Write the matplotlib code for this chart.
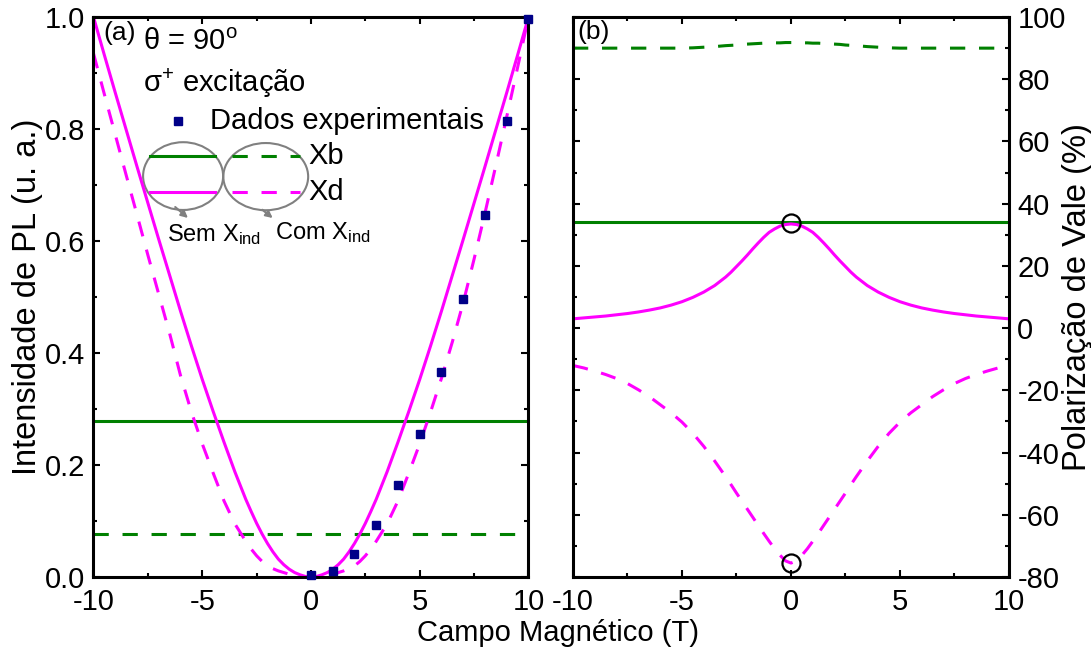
import matplotlib
matplotlib.use('Agg')
import matplotlib.pyplot as plt
from matplotlib.patches import Ellipse
from matplotlib.lines import Line2D
from matplotlib.ticker import MultipleLocator, FormatStrFormatter

plt.rcParams['font.family'] = ['Liberation Sans', 'DejaVu Sans']
plt.rcParams['mathtext.fontset'] = 'custom'
plt.rcParams['mathtext.rm'] = 'Liberation Sans'
plt.rcParams['mathtext.it'] = 'Liberation Sans:italic'
plt.rcParams['axes.unicode_minus'] = False
plt.rcParams['font.size'] = 21

# experimental PL intensity (normalised)
campo_exp = [0, 1, 2, 3, 4, 5, 6, 7, 8, 9, 10]
pl_exp = [0.003, 0.011, 0.041, 0.093, 0.164, 0.256, 0.367, 0.496, 0.646, 0.814, 0.997]

# model field grid (T)
campo = [-10, -9.5, -9, -8.5, -8, -7.5, -7, -6.5, -6, -5.5, -5, -4.5, -4, -3.5,
         -3, -2.75, -2.5, -2.25, -2, -1.75, -1.5, -1.25, -1, -0.75, -0.5, -0.25,
         0,
         0.25, 0.5, 0.75, 1, 1.25, 1.5, 1.75, 2, 2.25, 2.5, 2.75, 3,
         3.5, 4, 4.5, 5, 5.5, 6, 6.5, 7, 7.5, 8, 8.5, 9, 9.5, 10]

# (a) PL intensity, sem / com X_ind
pl_xb_sem = [0.279] * 53
pl_xb_com = [0.077] * 53
pl_xd_sem = [1.0, 0.932, 0.865, 0.799, 0.733, 0.668, 0.603, 0.539, 0.475, 0.413, 0.353, 0.296, 0.241, 0.188,
             0.139, 0.117, 0.096, 0.077, 0.060, 0.045, 0.032, 0.022, 0.014, 0.008, 0.004, 0.001,
             0.0,
             0.001, 0.004, 0.008, 0.014, 0.022, 0.032, 0.045, 0.060, 0.077, 0.096, 0.117, 0.139,
             0.188, 0.241, 0.296, 0.353, 0.413, 0.475, 0.539, 0.603, 0.668, 0.733, 0.799, 0.865, 0.932, 1.0]
pl_xd_com = [0.935, 0.862, 0.790, 0.718, 0.647, 0.575, 0.505, 0.435, 0.36, 0.295, 0.238, 0.186, 0.136, 0.095,
             0.064, 0.050, 0.038, 0.028, 0.020, 0.015, 0.011, 0.008, 0.005, 0.003, 0.001, 0.0,
             0.0,
             0.0, 0.001, 0.003, 0.005, 0.008, 0.011, 0.015, 0.020, 0.028, 0.038, 0.050, 0.064,
             0.095, 0.136, 0.186, 0.238, 0.295, 0.355, 0.42, 0.49, 0.568, 0.65, 0.735, 0.822, 0.91, 1.0]

# (b) valley polarisation (%)
pol_xb_sem = [34.0] * 53
pol_xb_com = [90.0, 90.0, 90.0, 90.0, 90.0, 90.0, 90.0, 90.0, 90.0, 90.0, 90.0, 90.1, 90.3, 90.5,
              90.8, 90.9, 91.0, 91.2, 91.3, 91.4, 91.5, 91.6, 91.6, 91.7, 91.7, 91.8,
              91.8,
              91.8, 91.7, 91.7, 91.6, 91.6, 91.5, 91.4, 91.3, 91.2, 91.0, 90.9, 90.8,
              90.5, 90.3, 90.1, 90.0, 90.0, 90.0, 90.0, 90.0, 90.0, 90.0, 90.0, 90.0, 90.0, 90.0]
pol_xd_sem = [3.0, 3.3, 3.6, 3.9, 4.3, 4.7, 5.2, 5.8, 6.5, 7.4, 8.5, 9.9, 11.6, 13.7,
              16.4, 18.0, 19.8, 21.6, 23.5, 25.5, 27.4, 29.2, 30.8, 31.9, 32.8, 33.3,
              33.5,
              33.3, 32.8, 31.9, 30.8, 29.2, 27.4, 25.5, 23.5, 21.6, 19.8, 18.0, 16.4,
              13.7, 11.6, 9.9, 8.5, 7.4, 6.5, 5.8, 5.2, 4.7, 4.3, 3.9, 3.6, 3.3, 3.0]
pol_xd_com = [-12.0, -12.8, -13.8, -14.9, -16.2, -17.8, -19.8, -22.0, -24.6, -27.2, -30.2, -33.8, -38.0, -42.7,
              -47.7, -50.3, -53.0, -55.6, -58.2, -60.8, -63.4, -66.0, -68.5, -70.9, -73.0, -74.8,
              -75.5,
              -74.8, -73.0, -70.9, -68.5, -66.0, -63.4, -60.8, -58.2, -55.6, -53.0, -50.3, -47.7,
              -42.7, -38.0, -33.8, -30.2, -27.2, -24.6, -22.0, -19.8, -17.8, -16.2, -14.9, -13.8, -12.8, -12.0]
circ_campo = [0, 0]
circ_pol = [33.8, -75.6]

verde = '#008000'
rosa = '#ff00ff'
azul = '#000088'
cinza = '#808080'
tracejado = (0, (5, 4.5))
lw = 2.2

fig = plt.figure(figsize=(10.91, 6.55), dpi=100)
ax1 = fig.add_axes([0.0857, 0.119, 0.3987, 0.855])
ax2 = fig.add_axes([0.5252, 0.119, 0.3996, 0.855])

ax1.plot(campo, pl_xb_sem, color=verde, lw=lw)
ax1.plot(campo, pl_xb_com, color=verde, lw=lw, ls=tracejado)
ax1.plot(campo, pl_xd_sem, color=rosa, lw=lw)
ax1.plot(campo, pl_xd_com, color=rosa, lw=lw, ls=tracejado)
ax1.plot(campo_exp, pl_exp, 's', color=azul, ms=6, clip_on=False, zorder=5)
ax1.set_xlim(-10, 10)
ax1.set_ylim(0, 1)
ax1.yaxis.set_major_locator(MultipleLocator(0.2))
ax1.yaxis.set_minor_locator(MultipleLocator(0.1))
ax1.yaxis.set_major_formatter(FormatStrFormatter('%.1f'))

ax2.plot(campo, pol_xb_sem, color=verde, lw=lw)
ax2.plot(campo, pol_xb_com, color=verde, lw=lw, ls=tracejado)
ax2.plot(campo, pol_xd_sem, color=rosa, lw=lw)
ax2.plot(campo, pol_xd_com, color=rosa, lw=lw, ls=tracejado)
ax2.plot(circ_campo, circ_pol, 'o', mfc='none', mec='black', ms=13, mew=1.6, zorder=5)
ax2.set_xlim(-10, 10)
ax2.set_ylim(-80, 100)
ax2.yaxis.set_major_locator(MultipleLocator(20))
ax2.yaxis.set_minor_locator(MultipleLocator(10))
ax2.tick_params(axis='y', labelleft=False, labelright=True)

for ax in (ax1, ax2):
    ax.xaxis.set_major_locator(MultipleLocator(5))
    ax.xaxis.set_minor_locator(MultipleLocator(2.5))
    ax.tick_params(which='both', direction='in', top=True, right=True,
                   width=1.5, labelsize=21)
    ax.tick_params(which='major', length=5)
    ax.tick_params(which='minor', length=3)
    ax.tick_params(axis='x', pad=8)
    ax.tick_params(axis='y', pad=6)
    for s in ax.spines.values():
        s.set_linewidth(2.2)

# axis titles
fig.text(0.511, 0.034, 'Campo Magnético (T)', ha='center', va='center', fontsize=21)
fig.text(0.025, 0.547, 'Intensidade de PL (u. a.)', rotation=90,
         ha='center', va='center', fontsize=23.5)
fig.text(0.9875, 0.547, 'Polarização de Vale (%)', rotation=90,
         ha='center', va='center', fontsize=23.5)

# panel (a) annotations
t = ax1.transAxes
ax1.text(0.023, 0.971, '(a)', transform=t, ha='left', va='center', fontsize=19)
ax1.text(0.114, 0.955, 'θ = 90$^{\\rm o}$', transform=t, ha='left', va='center', fontsize=21)
ax1.text(0.114, 0.882, 'σ$^{+}$ excitação', transform=t, ha='left', va='center', fontsize=21)
ax1.add_line(Line2D([0.194], [0.814], transform=t, marker='s', color=azul, ms=6, ls='none'))
ax1.text(0.268, 0.814, 'Dados experimentais', transform=t, ha='left', va='center', fontsize=21)

ax1.add_line(Line2D([0.130, 0.279], [0.752, 0.752], transform=t, color=verde, lw=lw))
ax1.add_line(Line2D([0.318, 0.474], [0.752, 0.752], transform=t, color=verde, lw=lw, ls=tracejado))
ax1.add_line(Line2D([0.130, 0.279], [0.688, 0.688], transform=t, color=rosa, lw=lw))
ax1.add_line(Line2D([0.318, 0.474], [0.688, 0.688], transform=t, color=rosa, lw=lw, ls=tracejado))
ax1.text(0.493, 0.752, 'Xb', transform=t, ha='left', va='center', fontsize=21)
ax1.text(0.493, 0.688, 'Xd', transform=t, ha='left', va='center', fontsize=21)

ax1.add_patch(Ellipse((0.206, 0.716), 0.184, 0.121, transform=t, fill=False, ec=cinza, lw=1.5))
ax1.add_patch(Ellipse((0.396, 0.715), 0.195, 0.120, transform=t, fill=False, ec=cinza, lw=1.5))
ax1.annotate('', xy=(0.222, 0.638), xytext=(0.183, 0.664), xycoords='axes fraction',
             arrowprops=dict(arrowstyle='-|>', color=cinza, lw=1.5, mutation_scale=10))
ax1.annotate('', xy=(0.417, 0.638), xytext=(0.383, 0.659), xycoords='axes fraction',
             arrowprops=dict(arrowstyle='-|>', color=cinza, lw=1.5, mutation_scale=10))
ax1.text(0.168, 0.611, 'Sem X$_{\\rm ind}$', transform=t, ha='left', va='center', fontsize=17)
ax1.text(0.417, 0.616, 'Com X$_{\\rm ind}$', transform=t, ha='left', va='center', fontsize=17)

ax2.text(0.011, 0.974, '(b)', transform=ax2.transAxes, ha='left', va='center', fontsize=19)

fig.savefig('out.png', dpi=100)
